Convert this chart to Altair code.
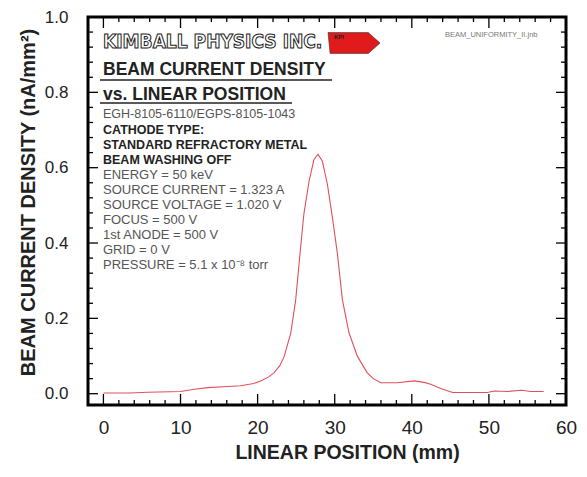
import altair as alt
import pandas as pd

# ---- data ----
pos_mm = [0.0, 3.5, 5.7, 10.0, 11.8, 13.5, 16.1, 17.8, 19.5, 20.4, 21.4, 22.15, 22.9,
          23.45, 24.3, 24.94, 25.5, 26.0, 26.67, 27.3, 27.83, 28.4, 29.05, 29.7, 30.35,
          31.0, 31.86, 32.95, 34.2, 35.0, 36.0, 38.1, 40.3, 41.6, 42.45, 43.75, 45.3,
          49.8, 50.7, 52.4, 54.3, 55.4, 57.1]
density = [0.002, 0.002, 0.004, 0.006, 0.012, 0.016, 0.019, 0.021, 0.027, 0.034, 0.044,
           0.056, 0.075, 0.099, 0.161, 0.249, 0.372, 0.477, 0.564, 0.621, 0.636, 0.617,
           0.556, 0.468, 0.372, 0.249, 0.161, 0.099, 0.056, 0.040, 0.029, 0.029, 0.034,
           0.030, 0.025, 0.014, 0.003, 0.003, 0.007, 0.006, 0.009, 0.006, 0.006]

x_major = [0, 10, 20, 30, 40, 50, 60]
x_minor = [v for v in range(2, 60, 2) if v % 10 != 0]
y_major = [0.0, 0.2, 0.4, 0.6, 0.8, 1.0]
y_minor = [round(0.04 * i, 2) for i in range(1, 25) if i % 5 != 0]

title_lines = ["BEAM CURRENT DENSITY", "vs. LINEAR POSITION"]
model_line = "EGH-8105-6110/EGPS-8105-1043"
bold_lines = ["CATHODE TYPE:", "STANDARD REFRACTORY METAL", "BEAM WASHING OFF"]
param_lines = ["ENERGY = 50 keV", "SOURCE CURRENT = 1.323 A", "SOURCE VOLTAGE = 1.020 V",
               "FOCUS = 500 V", "1st ANODE = 500 V", "GRID = 0 V",
               "PRESSURE = 5.1 x 10\u207b\u2078 torr"]
company = "KIMBALL  PHYSICS  INC."
file_name = "BEAM_UNIFORMITY_II.jnb"

W, H = 478, 388
TOP = 9
FONT = "Liberation Sans"
xs = alt.Scale(domain=[-2, 60], nice=False, zero=False)
ys = alt.Scale(domain=[-0.03, 1.0], nice=False, zero=False)

X_AX = alt.Axis(
    title="LINEAR POSITION (mm)", values=x_major, format="d", ticks=False, tickSize=0,
    domain=False, grid=False, labelFontSize=19, labelFont=FONT, labelColor="#222",
    labelPadding=13, labelFlush=False, titleFontSize=19.5, titleFont=FONT,
    titleFontWeight="bold", titleColor="#222", titleX=259, titleY=47,
    titleBaseline="middle", titleAlign="center")
Y_AX = alt.Axis(
    title="BEAM CURRENT DENSITY (nA/mm\u00b2)", values=y_major, format=".1f", ticks=False,
    tickSize=0, domain=False, grid=False, labelFontSize=17, labelFont=FONT,
    labelColor="#222", labelPadding=20, labelFlush=False, titleFontSize=20, titleFont=FONT,
    titleFontWeight="bold", titleColor="#222", titleX=-60, titleY=188 - (TOP - 6),
    titleBaseline="middle", titleAlign="center")

curve = pd.DataFrame({"x": pos_mm, "y": density})
one = pd.DataFrame({"k": [0]})

line = alt.Chart(curve).mark_line(color="#e0505a", strokeWidth=1.1).encode(
    x=alt.X("x:Q", scale=xs, axis=X_AX),
    y=alt.Y("y:Q", scale=ys, axis=Y_AX),
)

def xticks(vals, length):
    d = pd.DataFrame({"x": vals})
    b = alt.Chart(d).mark_rule(color="black", strokeWidth=1.3).encode(
        x=alt.X("x:Q", scale=xs, axis=X_AX), y=alt.value(H), y2=alt.value(H - length))
    t = alt.Chart(d).mark_rule(color="black", strokeWidth=1.3).encode(
        x=alt.X("x:Q", scale=xs, axis=X_AX), y=alt.value(0), y2=alt.value(length))
    return [b, t]

def yticks(vals, length):
    d = pd.DataFrame({"y": vals})
    l = alt.Chart(d).mark_rule(color="black", strokeWidth=1.3).encode(
        y=alt.Y("y:Q", scale=ys, axis=Y_AX), x=alt.value(0), x2=alt.value(length))
    r = alt.Chart(d).mark_rule(color="black", strokeWidth=1.3).encode(
        y=alt.Y("y:Q", scale=ys, axis=Y_AX), x=alt.value(W), x2=alt.value(W - length))
    return [l, r]

dy = -(TOP - 6)  # keep annotations at the same page position

def label(text, x, y, size, weight="normal", color="#222", font=FONT, **kw):
    return alt.Chart(one).mark_text(align="left", baseline="middle", fontSize=size,
                                    fontWeight=weight, font=font, color=color, **kw).encode(
        x=alt.value(x), y=alt.value(y + dy), text=alt.value(text))

def underline(x1, x2, y):
    return alt.Chart(one).mark_rule(color="#222", strokeWidth=1.5).encode(
        x=alt.value(x1), x2=alt.value(x2), y=alt.value(y + dy))

layers = [line]
layers += xticks(x_major, 11) + xticks(x_minor, 5)
layers += yticks(y_major, 10) + yticks(y_minor, 5)

# company banner
layers.append(alt.Chart(one).mark_text(
    align="left", baseline="middle", fontSize=19, fontWeight="bold",
    font="DejaVu Sans Condensed", fill="white", stroke="#222",
    strokeWidth=1).encode(x=alt.value(15), y=alt.value(28 + dy), text=alt.value(company)))
arrow = "M -1 -0.4 L 0.55 -0.4 L 1 0 L 0.55 0.4 L -0.92 0.4 Z"
layers.append(alt.Chart(one).mark_point(shape=arrow, size=2704, filled=True, fill="#e11b1b",
                                        stroke="#333", strokeWidth=0.6, opacity=1).encode(
    x=alt.value(266), y=alt.value(29 + dy)))
layers.append(label("KPI", 246, 23, 6, weight="bold", color="#222"))
layers.append(label(file_name, 357, 21, 7.5, color="#777"))

layers.append(label(title_lines[0], 15, 56, 17.5, weight="bold"))
layers.append(underline(12, 244, 66))
layers.append(label(title_lines[1], 15, 81, 17.5, weight="bold"))
layers.append(underline(12, 204, 89))
layers.append(label(model_line, 15, 99.5, 12.5, color="#555"))
y0 = 116
for i, t in enumerate(bold_lines):
    layers.append(label(t, 15, y0 + 15 * i, 12.5, weight="bold", color="#222"))
for i, t in enumerate(param_lines):
    layers.append(label(t, 15, y0 + 15 * (i + 3), 13, color="#555"))

chart = alt.layer(*layers).properties(
    width=W, height=H,
    autosize=alt.AutoSizeParams(type="none"),
    padding={"left": 80, "top": TOP, "right": 13, "bottom": 62},
).configure_view(stroke="black", strokeWidth=3)

chart.save("out.html", embed_options={"renderer": "svg", "actions": False})
